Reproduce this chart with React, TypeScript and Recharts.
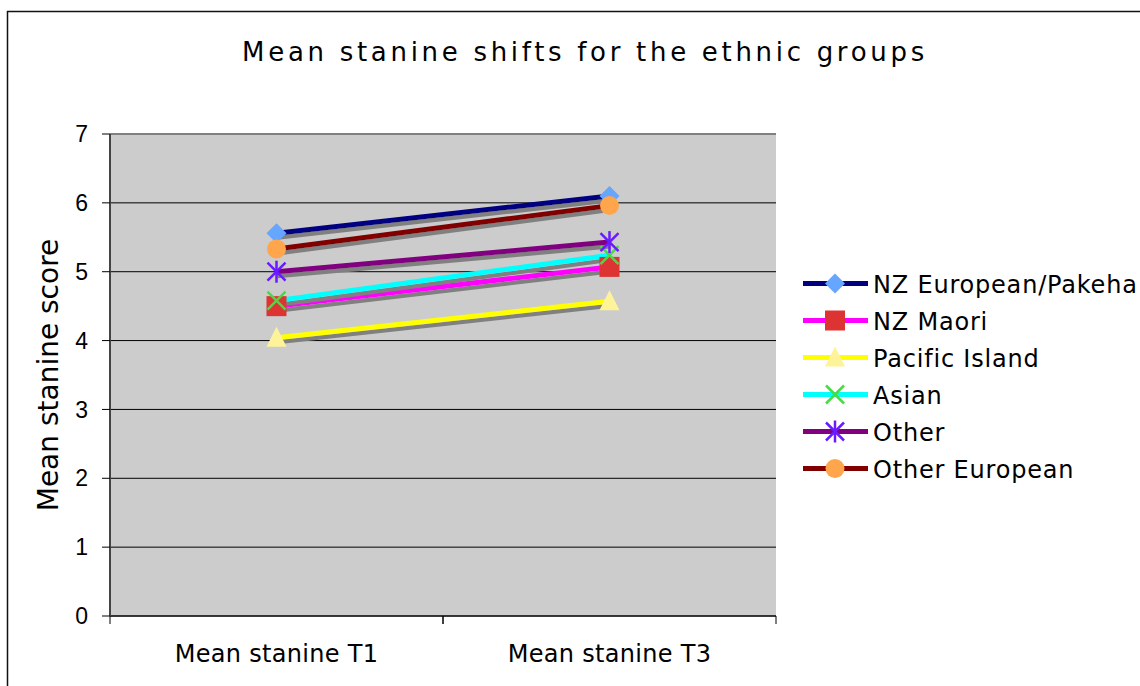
import { LineChart, Line, XAxis, YAxis, CartesianGrid, ReferenceLine, Legend, Label } from 'recharts';

// stanine means per ethnic group, first value T1, second value T3
const categories = ['Mean stanine T1', 'Mean stanine T3'];
const nzEuropean = [5.56, 6.1];
const nzMaori = [4.5, 5.07];
const pacificIsland = [4.04, 4.57];
const asian = [4.58, 5.24];
const other = [5.0, 5.43];
const otherEuropean = [5.33, 5.96];
const yTicks = [0, 1, 2, 3, 4, 5, 6, 7];

type Shape = 'diamond' | 'square' | 'triangle' | 'cross' | 'star' | 'circle';

type Series = {
  key: string;
  name: string;
  values: number[];
  line: string;
  marker: string;
  shape: Shape;
};

const series: Series[] = [
  { key: 'nzEuropean', name: 'NZ European/Pakeha', values: nzEuropean, line: '#000080', marker: '#66A6FF', shape: 'diamond' },
  { key: 'nzMaori', name: 'NZ Maori', values: nzMaori, line: '#FF00FF', marker: '#DD3333', shape: 'square' },
  { key: 'pacificIsland', name: 'Pacific Island', values: pacificIsland, line: '#FFFF00', marker: '#FFF39A', shape: 'triangle' },
  { key: 'asian', name: 'Asian', values: asian, line: '#00FFFF', marker: '#44DD44', shape: 'cross' },
  { key: 'other', name: 'Other', values: other, line: '#800080', marker: '#6A1AFF', shape: 'star' },
  { key: 'otherEuropean', name: 'Other European', values: otherEuropean, line: '#800000', marker: '#FFA54C', shape: 'circle' },
];

const data = categories.map((category, i) => {
  const row: Record<string, string | number> = { category };
  series.forEach((s) => {
    row[s.key] = s.values[i];
  });
  return row;
});

const FONT = "'DejaVu Sans', Verdana, sans-serif";
const TICK_FONT = "'Liberation Sans', Arial, sans-serif";
const WIDTH = 1140;
const HEIGHT = 686;
const PLOT_LEFT = 110;
const PLOT_RIGHT = 776;
const PLOT_TOP = 134;
const PLOT_BOTTOM = 616;
const HALF_BAND = (PLOT_RIGHT - PLOT_LEFT) / 4;
const ROW = 37;

function Marker({ shape, cx, cy, fill }: { shape: Shape; cx: number; cy: number; fill: string }) {
  switch (shape) {
    case 'diamond':
      return <polygon points={`${cx},${cy - 10} ${cx + 10},${cy} ${cx},${cy + 10} ${cx - 10},${cy}`} fill={fill} />;
    case 'square':
      return <rect x={cx - 10} y={cy - 10} width={20} height={20} fill={fill} />;
    case 'triangle':
      return <polygon points={`${cx},${cy - 11} ${cx + 10},${cy + 9} ${cx - 10},${cy + 9}`} fill={fill} />;
    case 'cross':
      return (
        <g stroke={fill} strokeWidth={2.5}>
          <line x1={cx - 9} y1={cy - 9} x2={cx + 9} y2={cy + 9} />
          <line x1={cx - 9} y1={cy + 9} x2={cx + 9} y2={cy - 9} />
        </g>
      );
    case 'star':
      return (
        <g stroke={fill} strokeWidth={2.5}>
          <line x1={cx - 9} y1={cy - 9} x2={cx + 9} y2={cy + 9} />
          <line x1={cx - 9} y1={cy + 9} x2={cx + 9} y2={cy - 9} />
          <line x1={cx} y1={cy - 11} x2={cx} y2={cy + 11} />
        </g>
      );
    default:
      return <circle cx={cx} cy={cy} r={9.5} fill={fill} />;
  }
}

function CategoryTick({ x, y, payload }: any) {
  return (
    <g>
      <line x1={x - HALF_BAND} x2={x - HALF_BAND} y1={y - 8} y2={y} stroke="#000" />
      <line x1={x + HALF_BAND} x2={x + HALF_BAND} y1={y - 8} y2={y} stroke="#000" />
      <text x={x} y={y + 38} textAnchor="middle" fontSize={24} letterSpacing={0.3} fontFamily={FONT} fill="#000">
        {payload.value}
      </text>
    </g>
  );
}

// rows keep the series order rather than the legend's sorted payload
function LegendRows({ payload }: any) {
  const shown = new Set((payload ?? []).map((p: any) => p.dataKey));
  const entries = series.filter((s) => shown.has(s.key));
  return (
    <svg width={340} height={ROW * series.length}>
      {entries.map((s, i) => {
        const cy = ROW * i + ROW / 2;
        return (
          <g key={s.key}>
            <line x1={3} x2={68} y1={cy} y2={cy} stroke={s.line} strokeWidth={5} />
            <Marker shape={s.shape} cx={35} cy={cy} fill={s.marker} />
            <text x={73} y={cy + 9} fontSize={24} letterSpacing={0.8} fontFamily={FONT} fill="#000">
              {s.name}
            </text>
          </g>
        );
      })}
    </svg>
  );
}

export default function App() {
  return (
    <div
      style={{
        position: 'absolute',
        left: 0,
        top: 0,
        width: WIDTH,
        height: HEIGHT,
        overflow: 'hidden',
        background: '#fff',
        fontFamily: FONT,
      }}
    >
      <style>{`.stanine-chart .recharts-line { filter: url(#lineShade); }`}</style>
      <svg width={WIDTH} height={HEIGHT} style={{ position: 'absolute', left: 0, top: 0 }}>
        <defs>
          <filter id="lineShade" filterUnits="userSpaceOnUse" x={0} y={0} width={WIDTH} height={HEIGHT}>
            <feOffset in="SourceAlpha" dx={1} dy={4} result="off" />
            <feFlood floodColor="#808080" result="col" />
            <feComposite in="col" in2="off" operator="in" result="shadow" />
            <feMerge>
              <feMergeNode in="shadow" />
              <feMergeNode in="SourceGraphic" />
            </feMerge>
          </filter>
        </defs>
        {/* outer chart frame */}
        <path d={`M7.5 ${HEIGHT} V11.5 H${WIDTH}`} fill="none" stroke="#111" strokeWidth={1.5} />
        <text
          x={585}
          y={61}
          textAnchor="middle"
          fontSize={26}
          letterSpacing={3.7}
          fontFamily={FONT}
          fill="#000"
        >
          Mean stanine shifts for the ethnic groups
        </text>
      </svg>
      <div className="stanine-chart" style={{ position: 'absolute', left: 0, top: 0 }}>
        <LineChart
          width={WIDTH}
          height={HEIGHT}
          data={data}
          margin={{ top: PLOT_TOP, right: WIDTH - PLOT_RIGHT, bottom: HEIGHT - PLOT_BOTTOM - 40, left: 10 }}
        >
          <CartesianGrid vertical={false} stroke="#000" fill="#CCCCCC" fillOpacity={1} />
          <XAxis
            dataKey="category"
            height={40}
            padding={{ left: HALF_BAND, right: HALF_BAND }}
            axisLine={{ stroke: '#222', strokeWidth: 1.5 }}
            tickLine={false}
            tickSize={8}
            tickMargin={0}
            tick={<CategoryTick />}
            interval={0}
          />
          <YAxis
            width={100}
            domain={[0, 7]}
            ticks={yTicks}
            interval={0}
            axisLine={{ stroke: '#444', strokeWidth: 2 }}
            tickLine={{ stroke: '#000' }}
            tickSize={8}
            tickMargin={14}
            tick={{ fontSize: 23, fontFamily: TICK_FONT, fill: '#000' }}
          >
            <Label
              content={({ viewBox }: any) => {
                const x = viewBox.x + 48;
                const y = viewBox.y + viewBox.height / 2;
                return (
                  <text x={x} y={y} transform={`rotate(-90 ${x} ${y})`} textAnchor="middle" fontSize={28} fontFamily={FONT} fill="#000">
                    Mean stanine score
                  </text>
                );
              }}
            />
          </YAxis>
          <YAxis
            yAxisId="frame"
            orientation="right"
            width={0}
            domain={[0, 7]}
            tick={false}
            tickLine={false}
            axisLine={{ stroke: '#808080', strokeWidth: 2 }}
          />
          <ReferenceLine y={7} stroke="#808080" strokeWidth={2} />
          {series.map((s) => (
            <Line
              key={s.key}
              dataKey={s.key}
              name={s.name}
              stroke={s.line}
              strokeWidth={5}
              type="linear"
              isAnimationActive={false}
              activeDot={false}
              dot={(p: any) => <Marker key={`${s.key}-${p.index}`} shape={s.shape} cx={p.cx} cy={p.cy} fill={s.marker} />}
            />
          ))}
          <Legend
            layout="vertical"
            align="center"
            verticalAlign="middle"
            wrapperStyle={{ left: 800, top: 264.5, width: 340 }}
            content={<LegendRows />}
          />
        </LineChart>
      </div>
    </div>
  );
}
